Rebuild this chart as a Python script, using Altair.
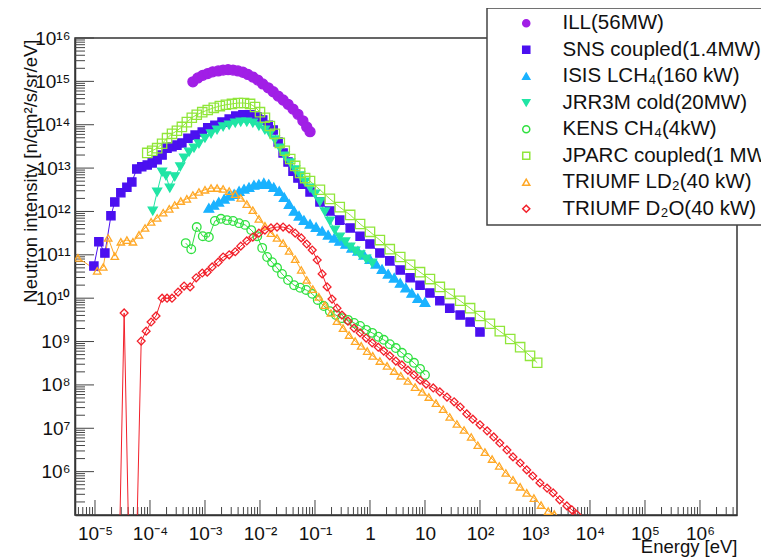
import altair as alt
import pandas as pd

# ---------------- series metadata ----------------
names = ["ILL(56MW)", "SNS coupled(1.4MW)", "ISIS LCH₄(160 kW)", "JRR3M cold(20MW)",
         "KENS CH₄(4kW)", "JPARC coupled(1 MW)", "TRIUMF LD₂(40 kW)", "TRIUMF D₂O(40 kW)"]
colors = ["#A11FE6", "#4B10F0", "#1AB2FF", "#20E5A5", "#30E040", "#90E63A", "#FFA826", "#F2202A"]
shapes = ["circle", "square", "triangle-up", "triangle-down", "circle", "square", "triangle-up", "diamond"]
filled = [True, True, True, True, False, False, False, False]
sizes = [100, 60, 55, 60, 105, 64, 85, 36]

# ---------------- data (log10 of energy [eV] and log10 of intensity) ----------------
ill_log_e = [-3.22, -3.13, -3.04, -2.95, -2.86, -2.76, -2.67, -2.58, -2.49, -2.40, -2.31, -2.22, -2.13,
             -2.04, -1.95, -1.85, -1.76, -1.67, -1.58, -1.49, -1.40, -1.31, -1.22, -1.15, -1.09]
ill_log_i = [14.99, 15.08, 15.14, 15.18, 15.22, 15.24, 15.26, 15.27, 15.26, 15.24, 15.21, 15.16, 15.10,
             15.03, 14.94, 14.85, 14.76, 14.66, 14.57, 14.47, 14.36, 14.24, 14.09, 13.95, 13.84]

sns_log_e = [-5.02, -4.93, -4.82, -4.71, -4.64, -4.53, -4.42, -4.33, -4.24, -4.15, -4.05, -3.96, -3.87,
             -3.78, -3.69, -3.60, -3.51, -3.42, -3.31, -3.18, -3.05, -2.95, -2.82, -2.69, -2.56, -2.44,
             -2.31, -2.18, -2.05, -1.95, -1.85, -1.76, -1.67, -1.58, -1.49, -1.40, -1.31, -1.22, -1.09,
             -0.91, -0.73, -0.55, -0.36, -0.18, 0.00, 0.18, 0.36, 0.55, 0.73, 0.91, 1.09, 1.27, 1.45,
             1.64, 1.82, 2.00]
sns_log_i = [10.74, 11.30, 11.04, 11.90, 12.22, 12.43, 12.56, 12.68, 12.98, 13.03, 13.07, 13.12, 13.19,
             13.30, 13.46, 13.49, 13.53, 13.58, 13.69, 13.76, 13.83, 13.93, 13.99, 14.06, 14.13, 14.20,
             14.23, 14.23, 14.18, 14.11, 13.99, 13.88, 13.60, 13.35, 13.14, 12.93, 12.77, 12.63, 12.45,
             12.22, 12.01, 11.80, 11.62, 11.43, 11.25, 11.04, 10.86, 10.65, 10.47, 10.30, 10.12, 9.94, 9.77,
             9.61, 9.45, 9.22]

isis_log_e = [-2.93, -2.84, -2.75, -2.65, -2.56, -2.47, -2.38, -2.29, -2.20, -2.11, -2.02, -1.93, -1.84,
              -1.75, -1.65, -1.56, -1.47, -1.38, -1.29, -1.20, -1.09, -0.98, -0.87, -0.76, -0.65, -0.55,
              -0.44, -0.33, -0.22, -0.11, 0.00, 0.11, 0.22, 0.33, 0.44, 0.55, 0.65, 0.76, 0.87, 1.00]
isis_log_i = [12.08, 12.15, 12.22, 12.29, 12.36, 12.40, 12.47, 12.52, 12.56, 12.61, 12.63, 12.66, 12.63,
              12.56, 12.47, 12.33, 12.17, 12.01, 11.90, 11.80, 11.71, 11.64, 11.55, 11.46, 11.39, 11.32,
              11.25, 11.16, 11.09, 11.00, 10.90, 10.79, 10.67, 10.56, 10.47, 10.35, 10.24, 10.12, 10.00, 9.91]

jrr_log_e = [-3.95, -3.87, -3.78, -3.71, -3.64, -3.55, -3.45, -3.38, -3.29, -3.20, -3.11, -3.00, -2.89,
             -2.78, -2.67, -2.56, -2.45, -2.35, -2.24, -2.13, -2.02, -1.91, -1.82, -1.73, -1.64, -1.55,
             -1.45, -1.36, -1.27, -1.18, -1.09, -1.00, -0.91, -0.82, -0.73, -0.64, -0.55, -0.45, -0.36,
             -0.27, -0.18, -0.07, 0.04]
jrr_log_i = [12.01, 12.45, 12.91, 12.82, 12.54, 12.80, 13.03, 13.23, 13.37, 13.46, 13.56, 13.69, 13.79,
             13.88, 13.95, 13.99, 14.04, 14.06, 14.06, 14.04, 13.97, 13.88, 13.79, 13.65, 13.46, 13.28,
             13.12, 12.96, 12.82, 12.68, 12.54, 12.40, 12.22, 11.99, 11.78, 11.57, 11.41, 11.30, 11.18,
             11.09, 11.00, 10.90, 10.81]

kens_log_e = [-3.35, -3.25, -3.15, -3.04, -2.93, -2.82, -2.71, -2.60, -2.49, -2.38, -2.27, -2.16, -2.05,
              -1.96, -1.87, -1.78, -1.69, -1.60, -1.49, -1.38, -1.27, -1.16, -1.05, -0.95, -0.84, -0.73,
              -0.62, -0.51, -0.40, -0.29, -0.18, -0.07, 0.04, 0.15, 0.25, 0.36, 0.47, 0.58, 0.69, 0.80,
              0.91, 1.00]
kens_log_i = [11.27, 11.13, 11.64, 11.43, 11.41, 11.78, 11.83, 11.80, 11.78, 11.73, 11.69, 11.57, 11.43,
              11.16, 10.95, 10.83, 10.70, 10.56, 10.42, 10.30, 10.24, 10.19, 10.10, 9.96, 9.82, 9.70,
              9.61, 9.54, 9.50, 9.43, 9.36, 9.27, 9.20, 9.11, 9.04, 8.94, 8.85, 8.74, 8.62, 8.51,
              8.37, 8.23]

jparc_log_e = [-4.05, -3.96, -3.87, -3.78, -3.69, -3.60, -3.51, -3.42, -3.33, -3.24, -3.15, -3.05, -2.95,
               -2.84, -2.73, -2.62, -2.51, -2.40, -2.29, -2.18, -2.09, -2.00, -1.91, -1.82, -1.73, -1.64,
               -1.55, -1.45, -1.36, -1.27, -1.18, -1.09, -0.91, -0.73, -0.55, -0.36, -0.18, 0.00, 0.18,
               0.36, 0.55, 0.73, 0.91, 1.09, 1.27, 1.45, 1.64, 1.82, 2.00, 2.18, 2.36, 2.55, 2.73, 2.91, 3.04]
jparc_log_i = [13.35, 13.40, 13.46, 13.56, 13.69, 13.79, 13.86, 13.95, 14.06, 14.16, 14.23, 14.29, 14.34,
               14.39, 14.43, 14.46, 14.48, 14.50, 14.50, 14.48, 14.41, 14.29, 14.16, 13.97, 13.79, 13.58,
               13.40, 13.21, 13.05, 12.89, 12.77, 12.70, 12.50, 12.29, 12.10, 11.92, 11.71, 11.53, 11.34,
               11.13, 10.95, 10.77, 10.60, 10.44, 10.26, 10.10, 9.94, 9.77, 9.59, 9.41, 9.24, 9.06, 8.87, 8.67, 8.51]

ld2_log_e = [-5.31, -4.96, -4.85, -4.76, -4.64, -4.53, -4.42, -4.31, -4.20, -4.09, -3.98, -3.87, -3.76,
             -3.65, -3.55, -3.44, -3.33, -3.22, -3.11, -3.00, -2.89, -2.78, -2.67, -2.56, -2.45, -2.35,
             -2.24, -2.13, -2.02, -1.91, -1.80, -1.69, -1.58, -1.47, -1.36, -1.25, -1.15, -1.04, -0.93,
             -0.82, -0.71, -0.60, -0.49, -0.38, -0.27, -0.16, -0.05, 0.05, 0.18, 0.31, 0.44, 0.56, 0.69,
             0.82, 0.95, 1.07, 1.20, 1.33, 1.45, 1.58, 1.71, 1.84, 1.96, 2.09, 2.22, 2.35, 2.47, 2.60,
             2.73, 2.85, 2.98, 3.11, 3.24, 3.35]
ld2_log_i = [10.93, 10.63, 10.72, 11.39, 10.97, 11.30, 11.34, 11.30, 11.46, 11.62, 11.76, 11.85, 11.97,
             12.06, 12.15, 12.24, 12.29, 12.38, 12.45, 12.50, 12.54, 12.54, 12.52, 12.47, 12.40, 12.31,
             12.17, 12.03, 11.83, 11.67, 11.50, 11.39, 11.27, 11.09, 10.90, 10.65, 10.42, 10.21, 10.03,
             9.84, 9.66, 9.47, 9.31, 9.15, 9.01, 8.90, 8.78, 8.67, 8.55, 8.44, 8.32, 8.21, 8.09,
             7.95, 7.84, 7.72, 7.58, 7.44, 7.26, 7.10, 6.96, 6.80, 6.61, 6.45, 6.29, 6.13, 5.97, 5.81,
             5.65, 5.51, 5.39, 5.23, 5.09, 5.02]

d2o_log_e = [-4.57, -4.47, -4.37, -4.26, -4.16, -4.07, -3.98, -3.89, -3.78, -3.69, -3.60, -3.49, -3.38,
             -3.27, -3.16, -3.05, -2.96, -2.87, -2.76, -2.67, -2.56, -2.45, -2.35, -2.24, -2.13, -2.02,
             -1.91, -1.80, -1.69, -1.58, -1.47, -1.36, -1.25, -1.15, -1.05, -0.96, -0.87, -0.78, -0.69,
             -0.60, -0.51, -0.40, -0.29, -0.18, -0.07, 0.04, 0.15, 0.25, 0.36, 0.47, 0.58, 0.69, 0.80,
             0.91, 1.02, 1.15, 1.27, 1.40, 1.53, 1.64, 1.76, 1.87, 2.00, 2.13, 2.25, 2.36, 2.49, 2.60,
             2.73, 2.85, 2.96, 3.09, 3.22, 3.33, 3.45, 3.58, 3.67, 3.76]
d2o_log_i = [3.40, 9.66, 3.40, 3.40, 9.01, 9.24, 9.45, 9.59, 10.00, 10.00, 10.00, 10.14, 10.28,
             10.26, 10.47, 10.58, 10.60, 10.72, 10.83, 10.95, 11.00, 11.07, 11.20, 11.32, 11.41, 11.50,
             11.57, 11.62, 11.64, 11.64, 11.60, 11.50, 11.39, 11.25, 11.11, 10.88, 10.56, 10.26, 9.98,
             9.77, 9.61, 9.47, 9.31, 9.20, 9.08, 8.97, 8.87, 8.78, 8.67, 8.55, 8.46, 8.34, 8.23,
             8.11, 8.02, 7.93, 7.84, 7.72, 7.61, 7.49, 7.33, 7.21, 7.08, 6.94, 6.80, 6.66, 6.50, 6.34,
             6.20, 6.04, 5.90, 5.74, 5.62, 5.51, 5.35, 5.21, 5.12, 5.01]

series_data = [
    (names[0], ill_log_e, ill_log_i),
    (names[1], sns_log_e, sns_log_i),
    (names[2], isis_log_e, isis_log_i),
    (names[3], jrr_log_e, jrr_log_i),
    (names[4], kens_log_e, kens_log_i),
    (names[5], jparc_log_e, jparc_log_i),
    (names[6], ld2_log_e, ld2_log_i),
    (names[7], d2o_log_e, d2o_log_i),
]

# ---------------- axis tick labels ----------------
x_tick_exps = [-5, -4, -3, -2, -1, 0, 1, 2, 3, 4, 5, 6]
x_tick_labels = ["10⁻⁵", "10⁻⁴", "10⁻³", "10⁻²", "10⁻¹", "1", "10", "10²", "10³", "10⁴", "10⁵", "10⁶"]
y_tick_exps = [6, 7, 8, 9, 10, 11, 12, 13, 14, 15, 16]
y_tick_labels = ["10⁶", "10⁷", "10⁸", "10⁹", "10¹⁰", "10¹¹", "10¹²", "10¹³", "10¹⁴", "10¹⁵", "10¹⁶"]

x_domain = [4.33e-6, 4.71e6]
y_domain = [1e5, 1e16]

# ---------------- build table ----------------
rows = []
for name, le, li in series_data:
    assert len(le) == len(li), name
    for a, b in zip(le, li):
        rows.append({"series": name, "E": 10.0 ** a, "I": 10.0 ** b})
df = pd.DataFrame(rows)


def label_expr(exps, labels):
    expr = "''"
    for e, lbl in reversed(list(zip(exps, labels))):
        expr = f"(abs(log(datum.value)/LN10 - ({e})) < 0.01) ? '{lbl}' : {expr}"
    return expr


W, H = 662, 477
FONT = "Liberation Sans"
xscale = alt.Scale(type="log", domain=x_domain, nice=False)
yscale = alt.Scale(type="log", domain=y_domain, nice=False)

xaxis = alt.Axis(values=[10.0 ** e for e in x_tick_exps], labelExpr=label_expr(x_tick_exps, x_tick_labels),
                 ticks=False, grid=False, labelFlush=False, labelOverlap=False, labelPadding=9,
                 labelFontSize=19, title="Energy [eV]", titleFontSize=18.5, titleFontWeight="normal",
                 titleX=W, titleY=37, titleAlign="right", titleBaseline="alphabetic")
yaxis = alt.Axis(values=[10.0 ** e for e in y_tick_exps], labelExpr=label_expr(y_tick_exps, y_tick_labels),
                 ticks=False, grid=False, labelFlush=False, labelOverlap=False, labelPadding=5,
                 labelFontSize=19, title="Neutron intensity [n/cm²/s/sr/eV]", titleFontSize=18.5,
                 titleFontWeight="normal", titleAngle=270, titleX=-39, titleY=1, titleAlign="right",
                 titleBaseline="alphabetic")

X = alt.X("E:Q", scale=xscale, axis=xaxis)
Y = alt.Y("I:Q", scale=yscale, axis=yaxis)

# tick positions (ROOT style, drawn inside the frame)
lo_x, hi_x = x_domain
x_major = [10.0 ** e for e in x_tick_exps]
x_minor = [k * 10.0 ** e for e in range(-6, 7) for k in range(2, 10) if lo_x < k * 10.0 ** e < hi_x]
y_major = [10.0 ** e for e in range(5, 17)]
y_minor = [k * 10.0 ** e for e in range(5, 16) for k in range(2, 10)]

tick_color = "#444"
xmaj = alt.Chart(pd.DataFrame({"E": x_major})).mark_rule(color=tick_color, strokeWidth=1).encode(
    x=X, y=alt.value(H), y2=alt.value(H - 15))
xmin = alt.Chart(pd.DataFrame({"E": x_minor})).mark_rule(color=tick_color, strokeWidth=1).encode(
    x=X, y=alt.value(H), y2=alt.value(H - 8))
ymaj = alt.Chart(pd.DataFrame({"I": y_major})).mark_rule(color=tick_color, strokeWidth=1).encode(
    y=Y, x=alt.value(0), x2=alt.value(19))
ymin = alt.Chart(pd.DataFrame({"I": y_minor})).mark_rule(color=tick_color, strokeWidth=1).encode(
    y=Y, x=alt.value(0), x2=alt.value(10))

# lines: stroke channel with a data-driven (sorted) domain so its hidden legend stays separate
color_of = dict(zip(names, colors))
size_of = dict(zip(names, sizes))
sorted_names = sorted(names)
lines = alt.Chart(df).mark_line(strokeWidth=1, clip=True).encode(
    x=X, y=Y,
    stroke=alt.Stroke("series:N", scale=alt.Scale(range=[color_of[n] for n in sorted_names]), legend=None))

points = alt.Chart(df).mark_point(filled=False, opacity=1, strokeWidth=1.3, clip=True).encode(
    x=X, y=Y,
    color=alt.Color("series:N", scale=alt.Scale(domain=names, range=colors), legend=alt.Legend(title=None)),
    fill=alt.Fill("series:N", scale=alt.Scale(domain=names,
                  range=[c if f else "transparent" for c, f in zip(colors, filled)]),
                  legend=alt.Legend(title=None)),
    shape=alt.Shape("series:N", scale=alt.Scale(domain=names, range=shapes), legend=alt.Legend(title=None)),
    size=alt.Size("series:N", scale=alt.Scale(range=[size_of[n] for n in sorted_names]), legend=None),
)

chart = alt.layer(xmaj, xmin, ymaj, ymin, lines, points).properties(
    width=W, height=H,
    autosize=alt.AutoSizeParams(type="none"),
    padding={"left": 67, "top": 30, "right": 24, "bottom": 42},
    background="white",
).configure(font=FONT).configure_view(
    stroke="#333", strokeWidth=1.5
).configure_axis(
    domainColor="#333", domainWidth=1.5, labelColor="#111", titleColor="#111", labelFont=FONT, titleFont=FONT
).configure_legend(
    orient="none", legendX=412, legendY=-30, padding=5, fillColor="white", strokeColor="#444",
    strokeWidth=1.5, labelFont=FONT, labelFontSize=20.5, labelColor="#111", labelLimit=500,
    symbolSize=50, symbolStrokeWidth=1.5, symbolOffset=24, labelOffset=26, rowPadding=5.5
)

chart.save("out.html", embed_options={"renderer": "svg", "actions": False})
